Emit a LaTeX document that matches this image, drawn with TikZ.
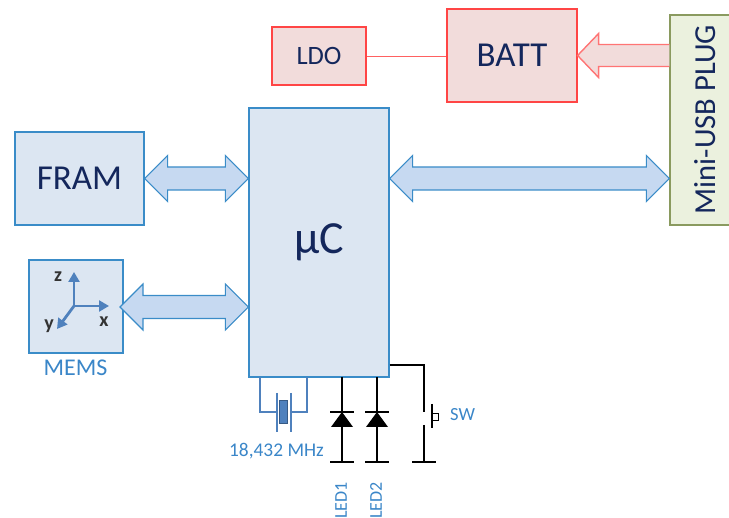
\documentclass[tikz,border=0pt]{standalone}
\usepackage{fontspec}
\setmainfont{Carlito}
\usetikzlibrary{calc,arrows.meta}
\definecolor{bluefill}{HTML}{DCE6F2}
\definecolor{blueline}{HTML}{3A8CC8}
\definecolor{arrowfill}{HTML}{C6D9F1}
\definecolor{redfill}{HTML}{F2DCDB}
\definecolor{redline}{HTML}{FF4545}
\definecolor{greenfill}{HTML}{EBF1DE}
\definecolor{greenline}{HTML}{8A9A5F}
\definecolor{navy}{HTML}{14275C}
\definecolor{labelblue}{HTML}{3A86C8}
\definecolor{axis}{HTML}{4F81BD}
\tikzset{
 box/.style={draw=blueline,fill=bluefill,line width=1.2pt,inner sep=0pt,text=navy},
 redbox/.style={draw=redline,fill=redfill,line width=1.2pt,inner sep=0pt,text=navy},
 usbbox/.style={draw=greenline,fill=greenfill,line width=1.2pt,inner sep=0pt,text=navy},
 bus/.style={draw=blueline,fill=arrowfill,line width=1.1pt,line join=miter},
 wire/.style={black,line width=1.2pt},
 xwire/.style={draw=axis,line width=1.2pt},
 lab/.style={text=labelblue,inner sep=0pt},
 axisline/.style={draw=axis,line width=2.8pt,-{Triangle[length=10pt,width=11pt]}},
 axlab/.style={text=black!80,inner sep=0pt,font=\fontsize{20}{20}\selectfont\bfseries}
}
\newcommand{\dbus}[2]{\draw[bus] (#1) -- ($(#1)+(23,-23)$) -- ($(#1)+(23,-11.5)$) -- ($(#2)+(-23,-11.5)$) -- ($(#2)+(-23,-23)$) -- (#2) -- ($(#2)+(-23,23)$) -- ($(#2)+(-23,11.5)$) -- ($(#1)+(23,11.5)$) -- ($(#1)+(23,23)$) -- cycle;}
\begin{document}
\begin{tikzpicture}[x=1pt,y=-1pt]
\useasboundingbox (0,0) rectangle (729,518);
% blocks
\node[redbox,minimum width=94pt,minimum height=58pt,font=\fontsize{26.5}{26.5}\selectfont] (ldo) at (319,56) {LDO};
\node[redbox,minimum width=130pt,minimum height=93pt,font=\fontsize{35}{35}\selectfont] (batt) at (512,55.5) {BATT};
\node[usbbox,minimum width=70pt,minimum height=210pt] (usb) at (705,120) {\raisebox{1pt}{\rotatebox{90}{\fontsize{30.5}{30.5}\selectfont Mini-USB PLUG}}};
\node[box,minimum width=129pt,minimum height=93pt,font=\fontsize{35}{35}\selectfont] (fram) at (79.5,178.5) {FRAM};
\node[box,minimum width=140pt,minimum height=269pt,font=\fontsize{46}{46}\selectfont] (uc) at (319,242.5) {\raisebox{-3pt}{μC}};
\node[box,minimum width=94pt,minimum height=93pt] (mems) at (76,306.5) {};
\node[lab,font=\fontsize{24}{24}\selectfont] (memslab) at (75.5,368) {MEMS};
% axes
\coordinate (o) at (74,306);
\coordinate (zt) at (74,272);
\coordinate (xt) at (109,306);
\coordinate (yt) at (57,329);
\draw[axisline] (o) -- (zt);
\draw[axisline] (o) -- (xt);
\draw[axisline] (o) -- (yt);
\node[axlab] (zl) at (58,277) {z};
\node[axlab] (xl) at (104,322) {x};
\node[axlab] (yl) at (49,326) {y};
% buses
\coordinate (f1) at (fram.east);
\coordinate (f2) at (uc.west |- fram.east);
\dbus{f1}{f2}
\coordinate (m1) at (120,307);
\coordinate (m2) at (uc.west |- m1);
\dbus{m1}{m2}
\coordinate (u1) at (uc.east |- fram.east);
\coordinate (u2) at (usb.west |- fram.east);
\dbus{u1}{u2}
% charge arrow
\coordinate (bt) at (batt.east);
\coordinate (bs) at (usb.west |- bt);
\draw[draw=redline!75,fill=redfill,line width=1.4pt]
 (bs) ++(0,-11) -- ($(bt)+(21,-11)$) -- ($(bt)+(21,-22)$) -- (bt) -- ($(bt)+(21,22)$) -- ($(bt)+(21,11)$) -- ($(bs)+(0,11)$);
\draw[draw=redline!85,line width=1.3pt] ([yshift=-0.5pt]ldo.east) -- ([yshift=-0.5pt]batt.west |- ldo.east);
% crystal
\coordinate (c1) at (260,377);
\coordinate (c2) at (307,377);
\coordinate (c3) at (260,412);
\coordinate (c4) at (307,412);
\coordinate (p1) at (277,412);
\coordinate (p2) at (291,412);
\draw[xwire] (c1) -- (c3) -- (p1);
\draw[xwire] (c2) -- (c4) -- (p2);
\draw[xwire] (277,393) -- (277,432);
\draw[xwire] (291,393) -- (291,432);
\node[draw=axis!70!black,fill=axis,line width=0.8pt,minimum width=7.5pt,minimum height=23pt,inner sep=0pt] (xtal) at (283.5,411.5) {};
\node[lab,font=\fontsize{19.4}{19.4}\selectfont] (xlab) at (276.5,451) {18,432 MHz};
% LEDs
\foreach \n/\x in {a/342,b/377}{
 \coordinate (top\n) at (\x,377);
 \coordinate (gnd\n) at (\x,462);
 \draw[wire] (top\n) -- (gnd\n);
 \draw[wire] (\x-12,412) -- (\x+12,412);
 \draw[wire] (\x-12,462) -- (\x+12,462);
 \fill[black] (\x,412) -- (\x+11,427) -- (\x-11,427) -- cycle;
}
\node[lab,rotate=90,font=\fontsize{18}{18}\selectfont] (led1) at (341,500.5) {LED1};
\node[lab,rotate=90,font=\fontsize{18}{18}\selectfont] (led2) at (376,500.5) {LED2};
% switch
\coordinate (s0) at (uc.east |- 0,365);
\coordinate (s1) at (424,365);
\coordinate (s2) at (424,412);
\coordinate (s3) at (424,425);
\coordinate (s4) at (424,462);
\draw[wire] (s0) -- (s1) -- (s2);
\draw[wire] (s3) -- (s4);
\draw[wire] (412,462) -- (436,462);
\draw[wire] (432,404) -- (432,428);
\draw[black,line width=1pt] (432,413.5) -- (438,413.5) -- (438,421) -- (432,421);
\node[lab,anchor=west,font=\fontsize{18.5}{18.5}\selectfont] (swl) at (450,415) {SW};
\end{tikzpicture}
\end{document}
